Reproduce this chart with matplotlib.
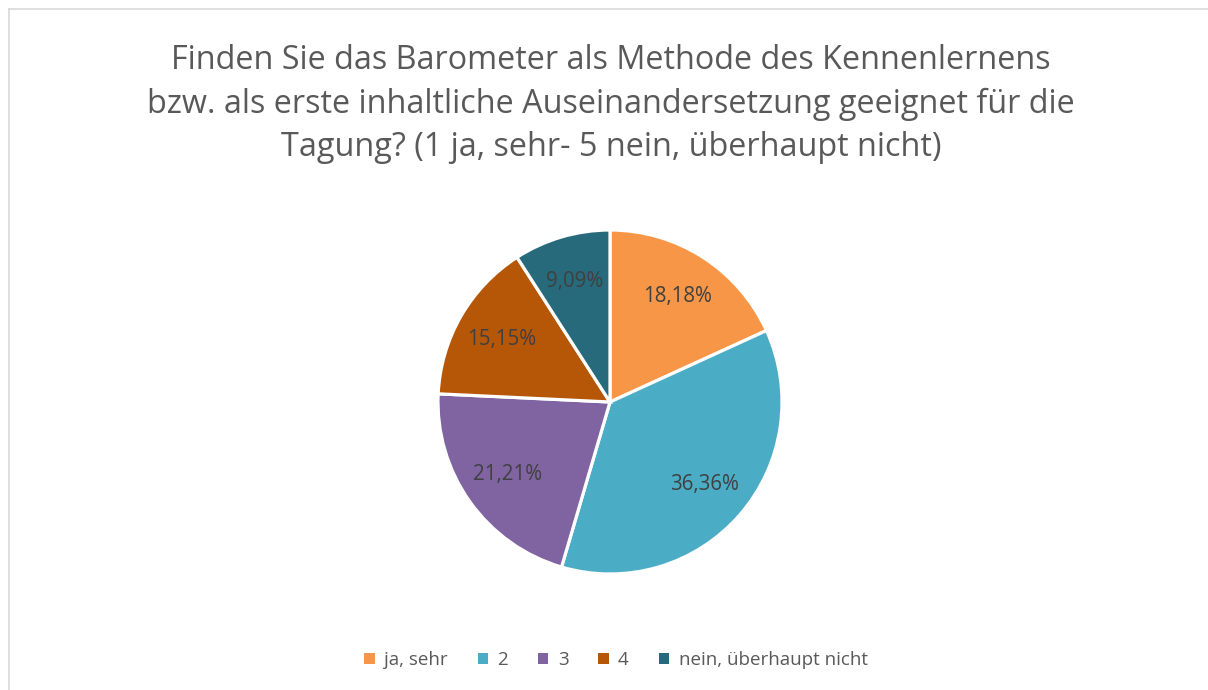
import matplotlib.pyplot as plt
from matplotlib.lines import Line2D
from matplotlib.patches import Patch

plt.rcParams['font.family'] = ['Open Sans', 'DejaVu Sans']

title = ("Finden Sie das Barometer als Methode des Kennenlernens\n"
         "bzw. als erste inhaltliche Auseinandersetzung geeignet für die\n"
         "Tagung? (1 ja, sehr- 5 nein, überhaupt nicht)")
categories = ["ja, sehr", "2", "3", "4", "nein, überhaupt nicht"]
shares = [18.18, 36.36, 21.21, 15.15, 9.09]
colors = ["#F79646", "#4BACC6", "#8064A2", "#B65708", "#276A7C"]

W, H = 1208, 690
fig = plt.figure(figsize=(W / 100, H / 100), dpi=100)

# chart frame (only top and left edges visible in the crop)
fig.add_artist(Line2D([8.5 / W, 8.5 / W], [0, 1 - 9 / H], color="#D9D9D9", lw=1.2))
fig.add_artist(Line2D([8.5 / W, 1], [1 - 9 / H, 1 - 9 / H], color="#D9D9D9", lw=1.2))

fig.text(611 / W, 1 - 104 / H, title, ha="center", va="center",
         fontsize=23.3, color="#595959", linespacing=1.42)

cx, cy, r = 610, 402, 172
ax = fig.add_axes([(cx - r) / W, 1 - (cy + r) / H, 2 * r / W, 2 * r / H])
wedges, texts = ax.pie(shares, colors=colors, startangle=90, counterclock=False,
                       labels=[("%.2f%%" % v).replace(".", ",") for v in shares],
                       labeldistance=0.73,
                       wedgeprops=dict(edgecolor="white", linewidth=2.3))
for t in texts:
    t.set_ha("center")
    t.set_va("center")
    t.set_fontsize(14.8)
    t.set_color("#404040")
ax.set_xlim(-1, 1)
ax.set_ylim(-1, 1)
ax.set_aspect("equal")
ax.axis("off")

handles = [Patch(facecolor=c, edgecolor="none") for c in colors]
fig.legend(handles, categories, loc="center", bbox_to_anchor=(616 / W, 1 - 660 / H),
           ncol=5, frameon=False, fontsize=13.5, labelcolor="#595959",
           handlelength=0.55, handleheight=0.55, handletextpad=0.5, columnspacing=1.6)

fig.savefig("out.png", dpi=100)
